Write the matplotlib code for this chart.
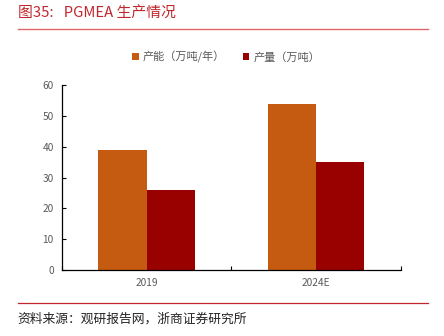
import numpy as np
import matplotlib.pyplot as plt
from matplotlib.lines import Line2D

plt.rcParams['font.family'] = ['Noto Sans CJK SC', 'DejaVu Sans']

categories = ['2019', '2024E']
capacity = [39, 54]      # 产能（万吨/年）
output = [26, 35]        # 产量（万吨）
yticks = [0, 10, 20, 30, 40, 50, 60]

c_cap = '#C55A11'
c_out = '#990000'
c_title = '#C0272D'

fig = plt.figure(figsize=(4.44, 3.36), dpi=100)
ax = fig.add_axes([0.1396, 0.196, 0.7634, 0.551])

x = np.arange(len(categories))
w = 0.285
ax.bar(x - w / 2, capacity, w, color=c_cap, label='产能（万吨/年）')
ax.bar(x + w / 2, output, w, color=c_out, label='产量（万吨）')

ax.set_xlim(-0.5, 1.5)
ax.set_ylim(0, 60)
ax.set_yticks(yticks)
ax.set_xticks(x)
ax.set_xticklabels(categories)
ax.set_xticks([-0.5, 0.5, 1.5], minor=True)
ax.tick_params(axis='x', which='major', length=0, pad=6, labelsize=7.3, labelcolor='#595959')
ax.tick_params(axis='x', which='minor', length=3, direction='in', width=0.8)
ax.tick_params(axis='y', length=3, direction='in', width=0.8, pad=6, labelsize=7.3, labelcolor='#595959')
for s in ['top', 'right']:
    ax.spines[s].set_visible(False)
for s in ['left', 'bottom']:
    ax.spines[s].set_linewidth(0.9)

leg = fig.legend(loc='center', bbox_to_anchor=(0.51, 0.83), ncol=2, frameon=False,
                 fontsize=8, handlelength=0.55, handleheight=0.55, handletextpad=0.4,
                 columnspacing=1.6)
for t in leg.get_texts():
    t.set_color('#595959')

fig.text(0.04, 0.958, '图35:   PGMEA 生产情况', color=c_title, fontsize=10.7, va='center')
fig.add_artist(Line2D([0.04, 0.964], [0.913, 0.913], color='#E06666', lw=1))
fig.add_artist(Line2D([0.04, 0.964], [0.098, 0.098], color='#C0272D', lw=0.9))
fig.text(0.04, 0.05, '资料来源：观研报告网，浙商证券研究所', color='#222222', fontsize=9.2, va='center')

fig.savefig('out.png', dpi=100)
